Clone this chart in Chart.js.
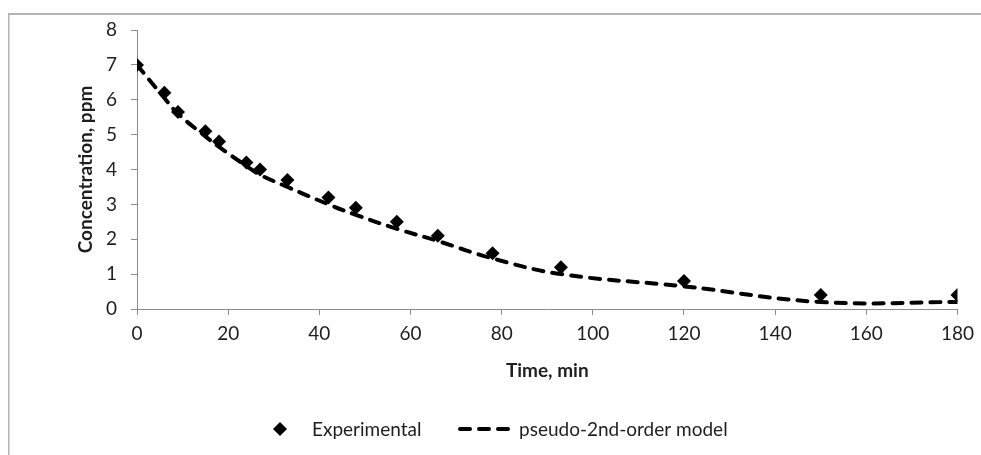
<!DOCTYPE html>
<html>
<head>
<meta charset="utf-8">
<script src="https://cdn.jsdelivr.net/npm/chart.js@4/dist/chart.umd.min.js"></script>
<style>
  html, body { margin: 0; padding: 0; background: #fff; }
  #wrap { width: 981px; height: 455px; position: relative; }
</style>
</head>
<body>
<div id="wrap"><canvas id="c" width="981" height="455"></canvas></div>
<script>
// ---- data ----
const timeMin = [0, 6, 9, 15, 18, 24, 27, 33, 42, 48, 57, 66, 78, 93, 120, 150, 180];
const experimental = [7.0, 6.2, 5.65, 5.1, 4.8, 4.2, 4.0, 3.7, 3.2, 2.9, 2.5, 2.1, 1.6, 1.2, 0.8, 0.4, 0.4];
const model = [7.0, 6.05, 5.6, 4.95, 4.65, 4.1, 3.85, 3.5, 3.0, 2.7, 2.3, 1.95, 1.45, 1.0, 0.65, 0.2, 0.2];
const seriesNames = ['Experimental', 'pseudo-2nd-order model'];
const xTitle = 'Time, min';
const yTitle = 'Concentration, ppm';
const xTicks = [0, 20, 40, 60, 80, 100, 120, 140, 160, 180];
const yTicks = [0, 1, 2, 3, 4, 5, 6, 7, 8];

const FONT = 'Lato';
const FS = 19;
const TEXT = '#1e1e1e';
const AXIS = '#8c8c8c';
const DASH = [10, 9];

const frame = {
  id: 'frame',
  beforeDraw(chart) {
    const ctx = chart.ctx;
    ctx.save();
    ctx.fillStyle = '#fff';
    ctx.fillRect(0, 0, chart.width, chart.height);
    ctx.strokeStyle = '#b4b4b4';
    ctx.lineWidth = 2;
    ctx.beginPath();
    ctx.moveTo(8, 14); ctx.lineTo(chart.width, 14);
    ctx.stroke();
    ctx.lineWidth = 1.5;
    ctx.beginPath();
    ctx.moveTo(8.75, 13); ctx.lineTo(8.75, chart.height);
    ctx.stroke();
    ctx.restore();
  }
};

const legendPlugin = {
  id: 'customLegend',
  afterDraw(chart) {
    const ctx = chart.ctx;
    const y = 429;
    const ds = chart.data.datasets;
    ctx.save();
    ctx.font = FS + 'px ' + FONT;
    ctx.textBaseline = 'middle';
    ctx.textAlign = 'left';
    // diamond
    ctx.fillStyle = '#000';
    ctx.beginPath();
    ctx.moveTo(273, y); ctx.lineTo(280, y - 7); ctx.lineTo(287, y); ctx.lineTo(280, y + 7);
    ctx.closePath(); ctx.fill();
    ctx.fillStyle = TEXT;
    ctx.fillText(ds[0].label, 312, y + 1);
    // dashed sample
    ctx.strokeStyle = '#000';
    ctx.lineWidth = 4;
    ctx.lineCap = 'round';
    ctx.setLineDash(DASH);
    ctx.beginPath();
    ctx.moveTo(460, y); ctx.lineTo(508, y);
    ctx.stroke();
    ctx.setLineDash([]);
    ctx.fillText(ds[1].label, 519, y + 1);
    ctx.restore();
  }
};

const chart = new Chart(document.getElementById('c'), {
  type: 'scatter',
  data: {
    datasets: [
      {
        label: seriesNames[0],
        data: timeMin.map((t, i) => ({ x: t, y: experimental[i] })),
        showLine: false,
        pointStyle: 'rectRot',
        pointRadius: 7,
        pointBackgroundColor: '#000',
        pointBorderColor: '#000',
        pointBorderWidth: 0,
        order: 1
      },
      {
        label: seriesNames[1],
        data: timeMin.map((t, i) => ({ x: t, y: model[i] })),
        showLine: true,
        borderColor: '#000',
        borderWidth: 4,
        borderDash: DASH,
        borderCapStyle: 'round',
        tension: 0.4,
        pointRadius: 0,
        fill: false,
        order: 2
      }
    ]
  },
  plugins: [frame, legendPlugin],
  options: {
    responsive: false,
    animation: false,
    events: [],
    layout: { padding: { left: 0, right: 20, top: 30, bottom: 66 } },
    plugins: { legend: { display: false }, tooltip: { enabled: false } },
    scales: {
      x: {
        type: 'linear',
        min: 0, max: 180,
        afterBuildTicks(s) { s.ticks = xTicks.map(v => ({ value: v })); },
        afterFit(s) { s.height = 80; },
        grid: { drawOnChartArea: false, tickLength: 6, color: AXIS, lineWidth: 1 },
        border: { color: AXIS, width: 1 },
        ticks: { color: TEXT, font: { family: FONT, size: FS }, padding: 7, maxRotation: 0 },
        title: { display: true, text: xTitle, color: TEXT, font: { family: FONT, size: FS, weight: 'bold' }, padding: { top: 0, bottom: 6.5 } }
      },
      y: {
        type: 'linear',
        min: 0, max: 8,
        afterBuildTicks(s) { s.ticks = yTicks.map(v => ({ value: v })); },
        afterFit(s) { s.width = 137; },
        grid: { drawOnChartArea: false, tickLength: 6, color: AXIS, lineWidth: 1 },
        border: { color: AXIS, width: 1 },
        ticks: { color: TEXT, font: { family: FONT, size: FS }, padding: 14 },
        title: { display: true, text: yTitle, color: TEXT, font: { family: FONT, size: FS, weight: 'bold' }, padding: { top: 74.5, bottom: 0 } }
      }
    }
  }
});
</script>
</body>
</html>
